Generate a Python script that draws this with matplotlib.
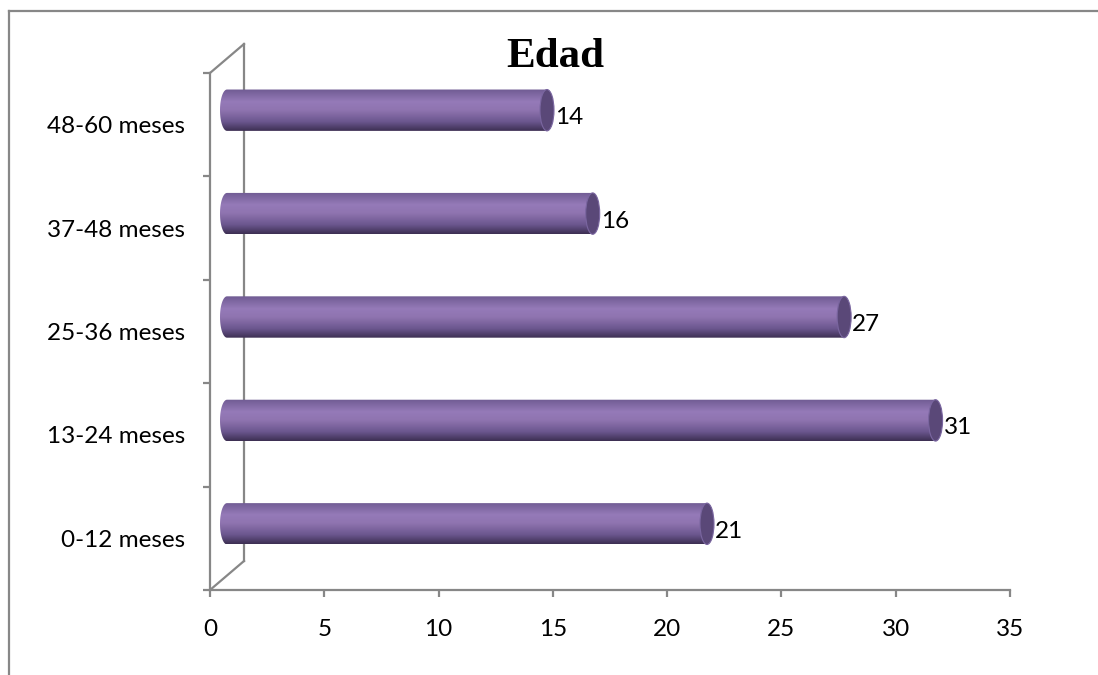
import numpy as np
import matplotlib
matplotlib.use('Agg')
import matplotlib.pyplot as plt
from matplotlib.colors import LinearSegmentedColormap
from matplotlib.patches import Ellipse, Polygon
from matplotlib.lines import Line2D
from matplotlib.transforms import offset_copy, IdentityTransform

# data
categories = ['0-12 meses', '13-24 meses', '25-36 meses', '37-48 meses', '48-60 meses']
values = [21, 31, 27, 16, 14]
x_ticks = [0, 5, 10, 15, 20, 25, 30, 35]
title = 'Edad'

plt.rcParams['font.family'] = ['Lato', 'DejaVu Sans']

W, H = 1098, 675
GRAY = '#878787'
DX, DY = 34, 29          # 3d depth offset of the back wall (pixels)
BAR_H = 0.4              # bar thickness in category units
CAP_PX = 7               # half width of the cylinder end ellipse (pixels)
FS = 17.5

fig = plt.figure(figsize=(W / 100, H / 100), dpi=100)
ax = fig.add_axes([210 / W, 85 / H, 800 / W, 517 / H])
ax.set_xlim(0, 35)
ax.set_ylim(-0.5, len(categories) - 0.5)

# axes styling
for s in ['top', 'right']:
    ax.spines[s].set_visible(False)
for s in ['left', 'bottom']:
    ax.spines[s].set_color(GRAY)
    ax.spines[s].set_linewidth(1.6)

ax.set_xticks(x_ticks)
ax.set_xticklabels([str(t) for t in x_ticks])
ax.tick_params(axis='x', length=5, width=1.6, color=GRAY, pad=16, labelsize=FS)
ax.set_yticks(range(len(categories)))
ax.set_yticklabels(categories)
ax.tick_params(axis='y', which='major', length=0, pad=18, labelsize=FS)
ax.set_yticks(np.arange(-0.5, len(categories), 1), minor=True)
ax.tick_params(axis='y', which='minor', length=5, width=1.6, color=GRAY)

# back wall of the 3d frame
back = offset_copy(ax.transData, fig=fig, x=DX, y=DY, units='dots')
ax.plot([0, 0], [-0.5, len(categories) - 0.5], color=GRAY, lw=1.6,
        transform=back, clip_on=False, zorder=1)
for yv in [-0.5, len(categories) - 0.5]:
    p = ax.transData.transform((0, yv))
    ax.add_line(Line2D([p[0], p[0] + DX], [p[1], p[1] + DY], color=GRAY, lw=1.6,
                       transform=IdentityTransform(), clip_on=False, zorder=1))

# cylinder bars
cmap = LinearSegmentedColormap.from_list('cyl', [
    (0.0, '#6f5b92'), (0.3, '#957ab8'), (0.5, '#8f74b0'),
    (0.78, '#6b568e'), (1.0, '#3c2f52')])
grad = np.linspace(0, 1, 256).reshape(-1, 1)
mid = offset_copy(ax.transData, fig=fig, x=DX / 2, y=DY / 2, units='dots')
rx = CAP_PX * 35 / 800.0

for i, v in enumerate(values):
    y0, y1 = i - BAR_H / 2, i + BAR_H / 2
    th = np.linspace(np.pi / 2, 3 * np.pi / 2, 40)
    pts = [(rx * np.cos(t), i + BAR_H / 2 * np.sin(t)) for t in th]
    pts += [(v, y0), (v, y1)]
    clip = Polygon(pts, closed=True, transform=mid)
    im = ax.imshow(grad, cmap=cmap, aspect='auto', origin='upper',
                   extent=(-rx, v, y0, y1), zorder=3, interpolation='bilinear')
    im.set_transform(mid)
    im.set_clip_path(clip)
    ax.add_patch(Ellipse((v, i), 2 * rx, BAR_H, transform=mid, facecolor='#5a4878',
                         edgecolor='#7a66a0', lw=0.8, zorder=4, clip_on=False))
    lab = offset_copy(ax.transData, fig=fig, x=DX / 2 + CAP_PX + 1, y=7, units='dots')
    ax.text(v, i, str(v), transform=lab, ha='left', va='center', fontsize=FS,
            zorder=5, clip_on=False)

ax.set_xlim(0, 35)
ax.set_ylim(-0.5, len(categories) - 0.5)

fig.text(555 / W, 1 - 57 / H, title, family='Liberation Serif', fontweight='bold',
         fontsize=31, ha='center', va='center')

# outer chart border
fig.add_artist(Line2D([9 / W, 9 / W], [0, 1 - 11 / H], color=GRAY, lw=1.6,
                      transform=fig.transFigure))
fig.add_artist(Line2D([9 / W, 1], [1 - 11 / H, 1 - 11 / H], color=GRAY, lw=1.6,
                      transform=fig.transFigure))

fig.savefig('out.png', dpi=100)
